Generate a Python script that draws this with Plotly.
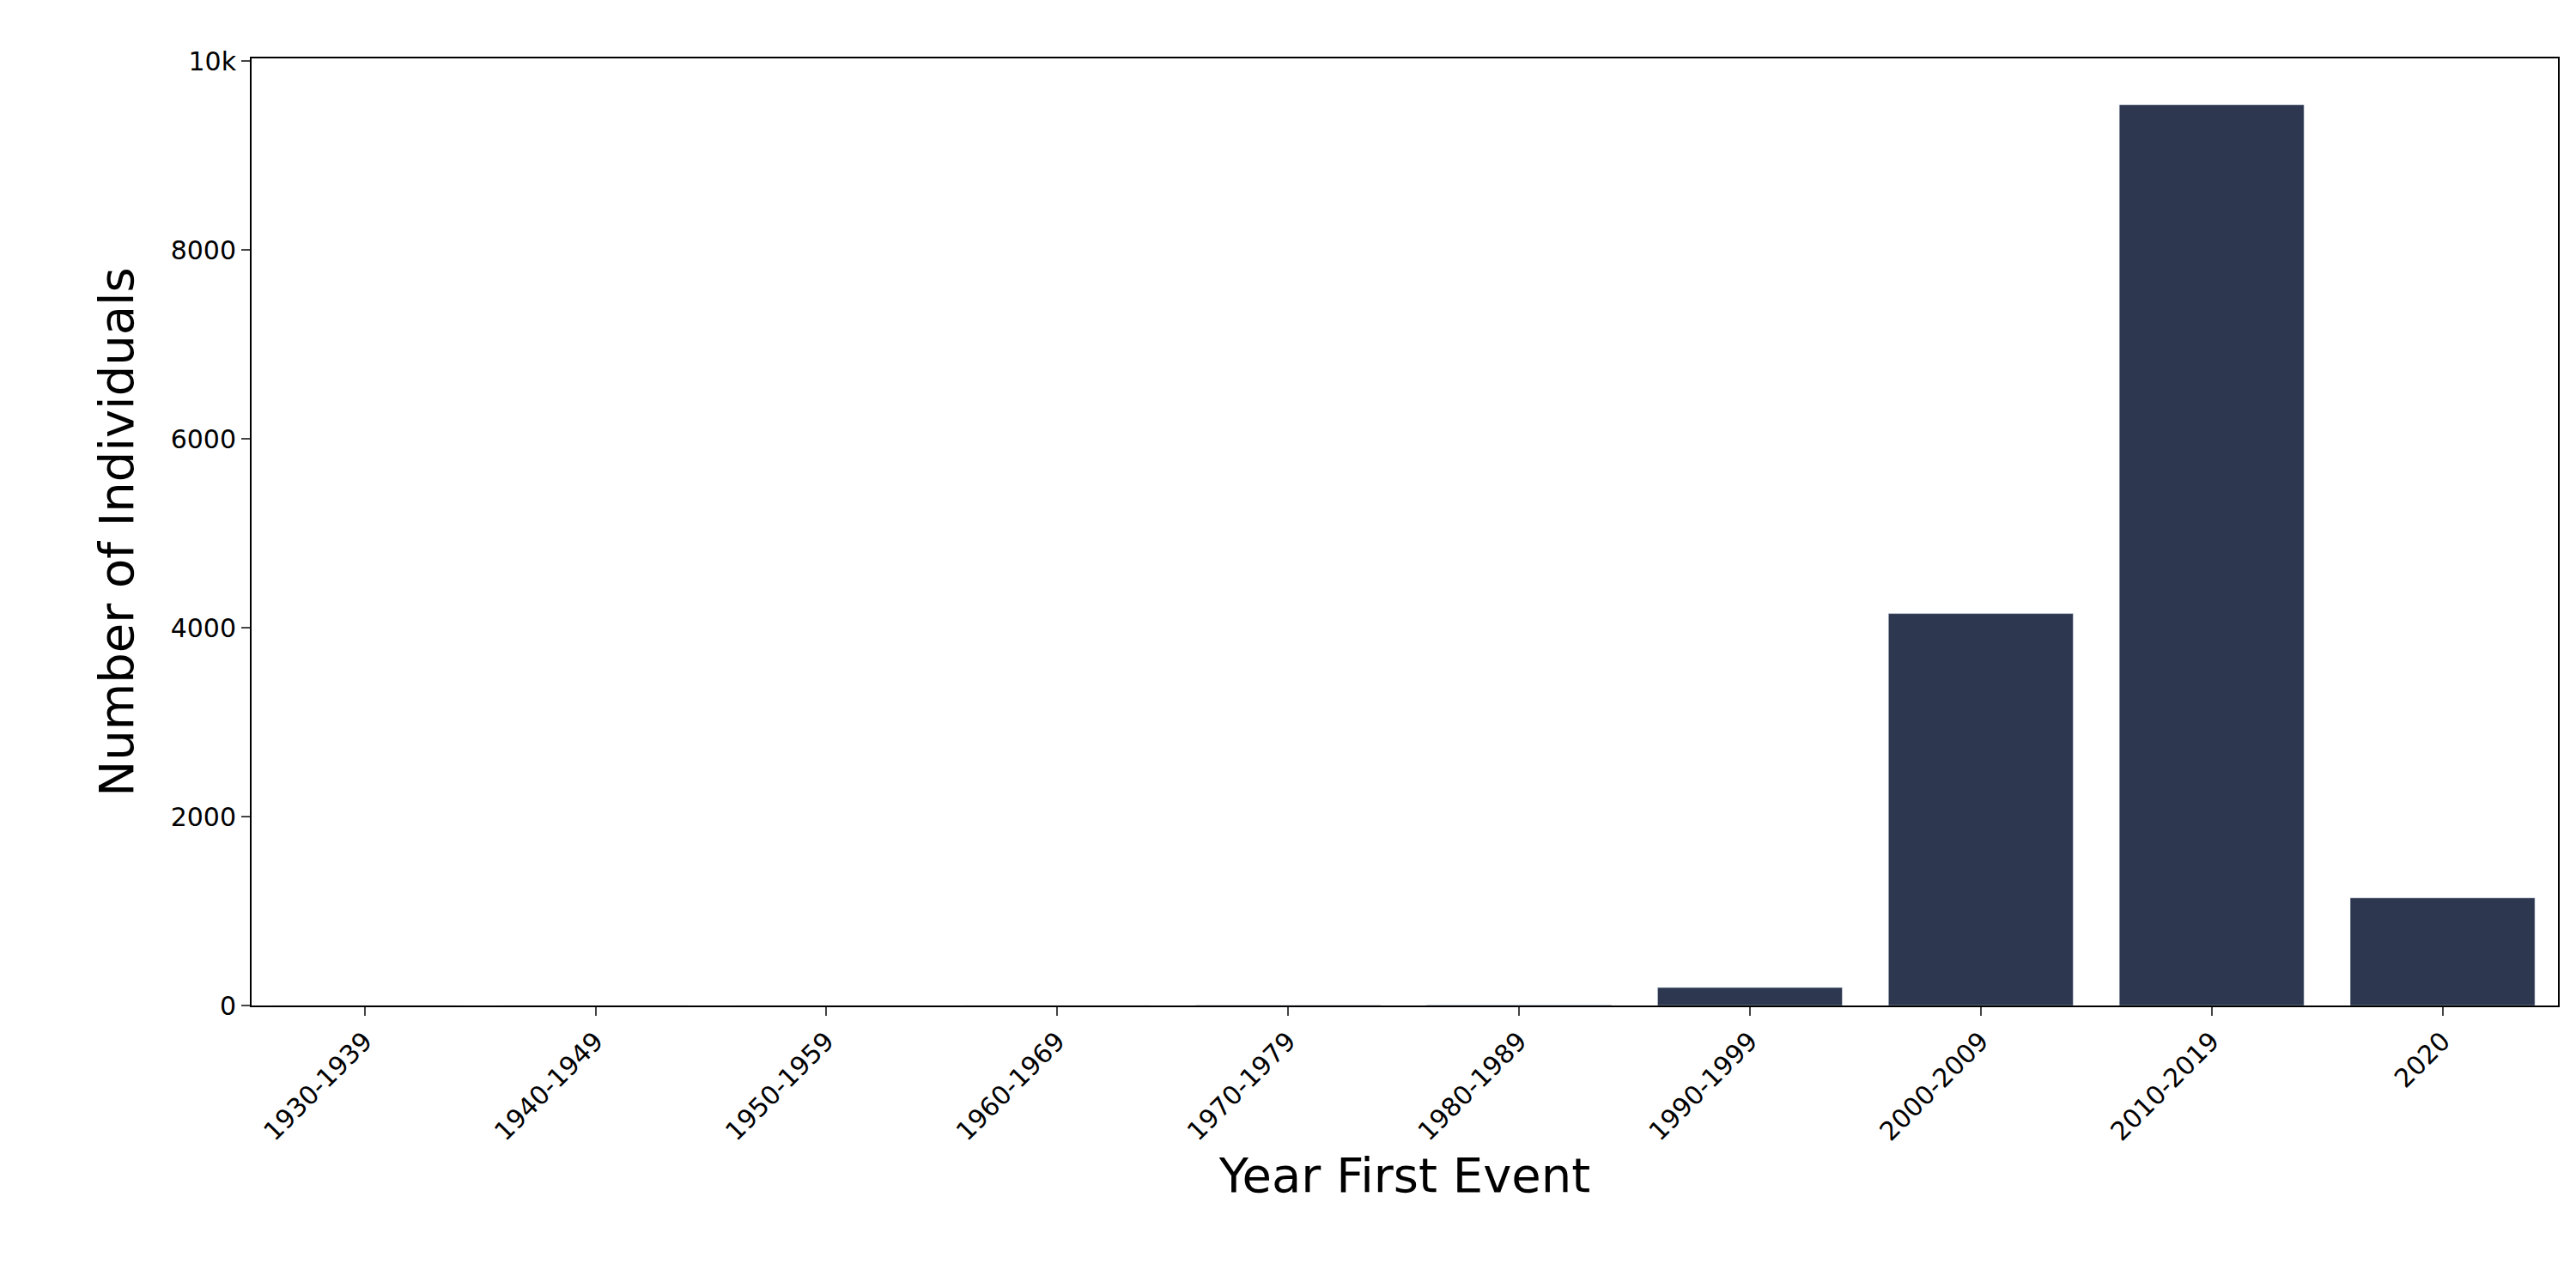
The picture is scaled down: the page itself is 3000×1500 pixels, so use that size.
import plotly.graph_objects as go

categories = ["1930-1939","1940-1949","1950-1959","1960-1969","1970-1979",
              "1980-1989","1990-1999","2000-2009","2010-2019","2020"]
values = [0, 0, 0, 1, 2, 5, 190, 4150, 9540, 1140]

fig = go.Figure(go.Bar(x=categories, y=values, marker_color="#2d3850", width=0.8))
fig.update_layout(
    width=3000, height=1500, plot_bgcolor="white", paper_bgcolor="white",
    margin=dict(l=285, r=29, t=60, b=337),
    font=dict(family="DejaVu Sans", color="black", size=30),
    bargap=0.2, showlegend=False,
)
fig.update_xaxes(range=[-0.49, 9.5], tickangle=-45, showline=True, linecolor="black",
                 linewidth=2, mirror=True, ticks="outside", ticklen=10, tickwidth=2,
                 tickfont=dict(size=30), title=dict(text="Year First Event", font=dict(size=56)),
                 showgrid=False)
fig.update_yaxes(range=[0, 10030], tickvals=[0,2000,4000,6000,8000,10000], showline=True,
                 linecolor="black", linewidth=2, mirror=True, ticks="outside", ticklen=10,
                 tickwidth=2, tickfont=dict(size=30),
                 title=dict(text="Number of Individuals", font=dict(size=56), standoff=25),
                 showgrid=False, zeroline=False)
fig.write_html("out.html")
